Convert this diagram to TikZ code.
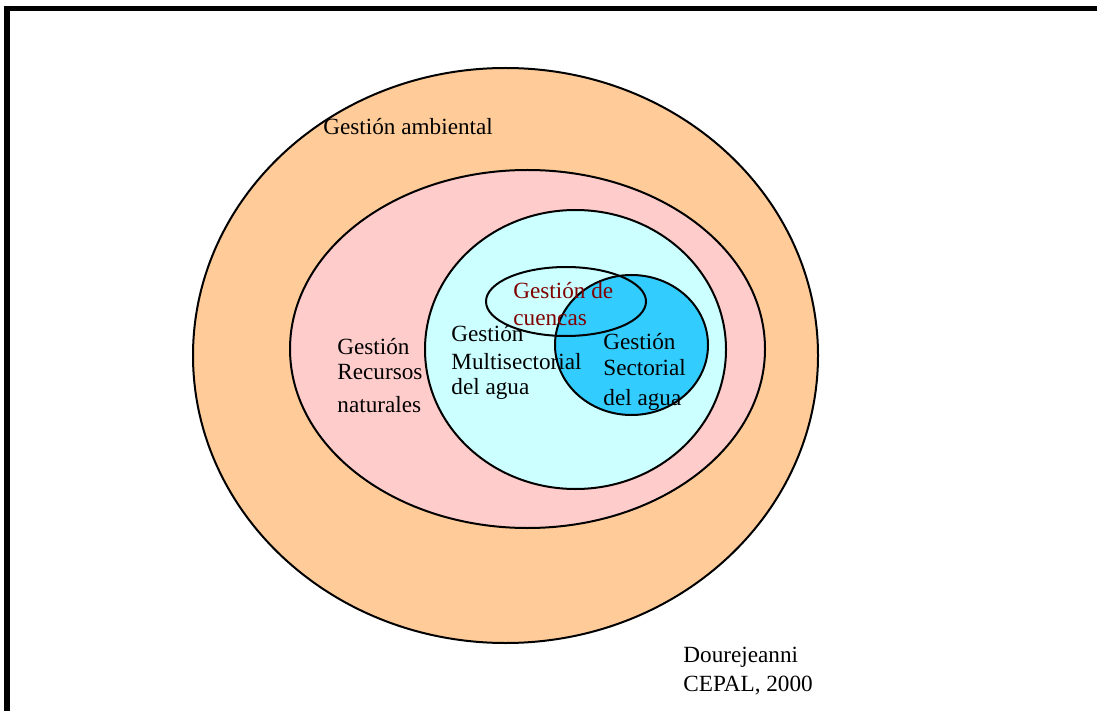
\documentclass[tikz,border=0pt]{standalone}
\usepackage{fontspec}
\setmainfont{Liberation Serif}
\usetikzlibrary{positioning,shapes.geometric}
\definecolor{colorambiental} {RGB}{255,204,153}
\definecolor{colorrecursos}  {RGB}{255,204,204}
\definecolor{colormulti}     {RGB}{204,255,255}
\definecolor{colorsectorial} {RGB}{51 ,204,255}
\definecolor{colorcuencas}   {RGB}{128,0  ,0  }
\definecolor{colortext}      {RGB}{0  ,0  ,0  }

\begin{document}
\begin{tikzpicture}[
    x=0.5pt, y=-0.5pt,
    zone/.style={ellipse,draw=black,line width=1pt,inner sep=0pt},
    txt/.style={text=colortext,font={\fontsize{11.6}{14}\selectfont},anchor=base west,inner sep=0pt},
]

    % Frame
    \useasboundingbox (0,0) rectangle (1097,711);
    \clip (0,0) rectangle (1097,711);
    \draw[line width=2.8pt] (7,8.5) rectangle (1200,800);

    % Nodes
    \node[zone,fill=colorambiental,minimum width=312.5pt,minimum height=287.5pt] (ambiental) at (505.5,355.5) {};
    \node[zone,fill=colorrecursos,minimum width=237.5pt,minimum height=179pt]   (recursos)  at (527.5,349) {};
    \node[zone,fill=colormulti,minimum width=150.5pt,minimum height=139.5pt]    (multi)     at (575.5,349.5) {};
    \node[zone,fill=colorsectorial,minimum width=76.5pt,minimum height=70pt]    (sectorial) at (631.5,345) {};
    \node[zone,minimum width=80pt,minimum height=34.5pt]                        (cuencas)   at (566,301.5) {};

    % Text
    \node[txt] (ambtxt) at (323,135) {Gestión ambiental};

    \node[txt] (rec1) at (337,354) {Gestión};
    \node[txt] (rec2) at (337,379) {Recursos};
    \node[txt] (rec3) at (337,412) {naturales};

    \node[txt] (mul1) at (451,341) {Gestión};
    \node[txt] (mul2) at (451,369) {Multisectorial};
    \node[txt] (mul3) at (451,394) {del agua};

    \node[txt] (sec1) at (603,349) {Gestión};
    \node[txt] (sec2) at (603,375) {Sectorial};
    \node[txt] (sec3) at (603,405) {del agua};

    \node[txt,text=colorcuencas] (cue1) at (513,299) {Gestión de};
    \node[txt,text=colorcuencas] (cue2) at (513,325) {cuencas};

    \node[txt] (src1) at (683,662) {Dourejeanni};
    \node[txt] (src2) at (683,691) {CEPAL, 2000};

\end{tikzpicture}
\end{document}
